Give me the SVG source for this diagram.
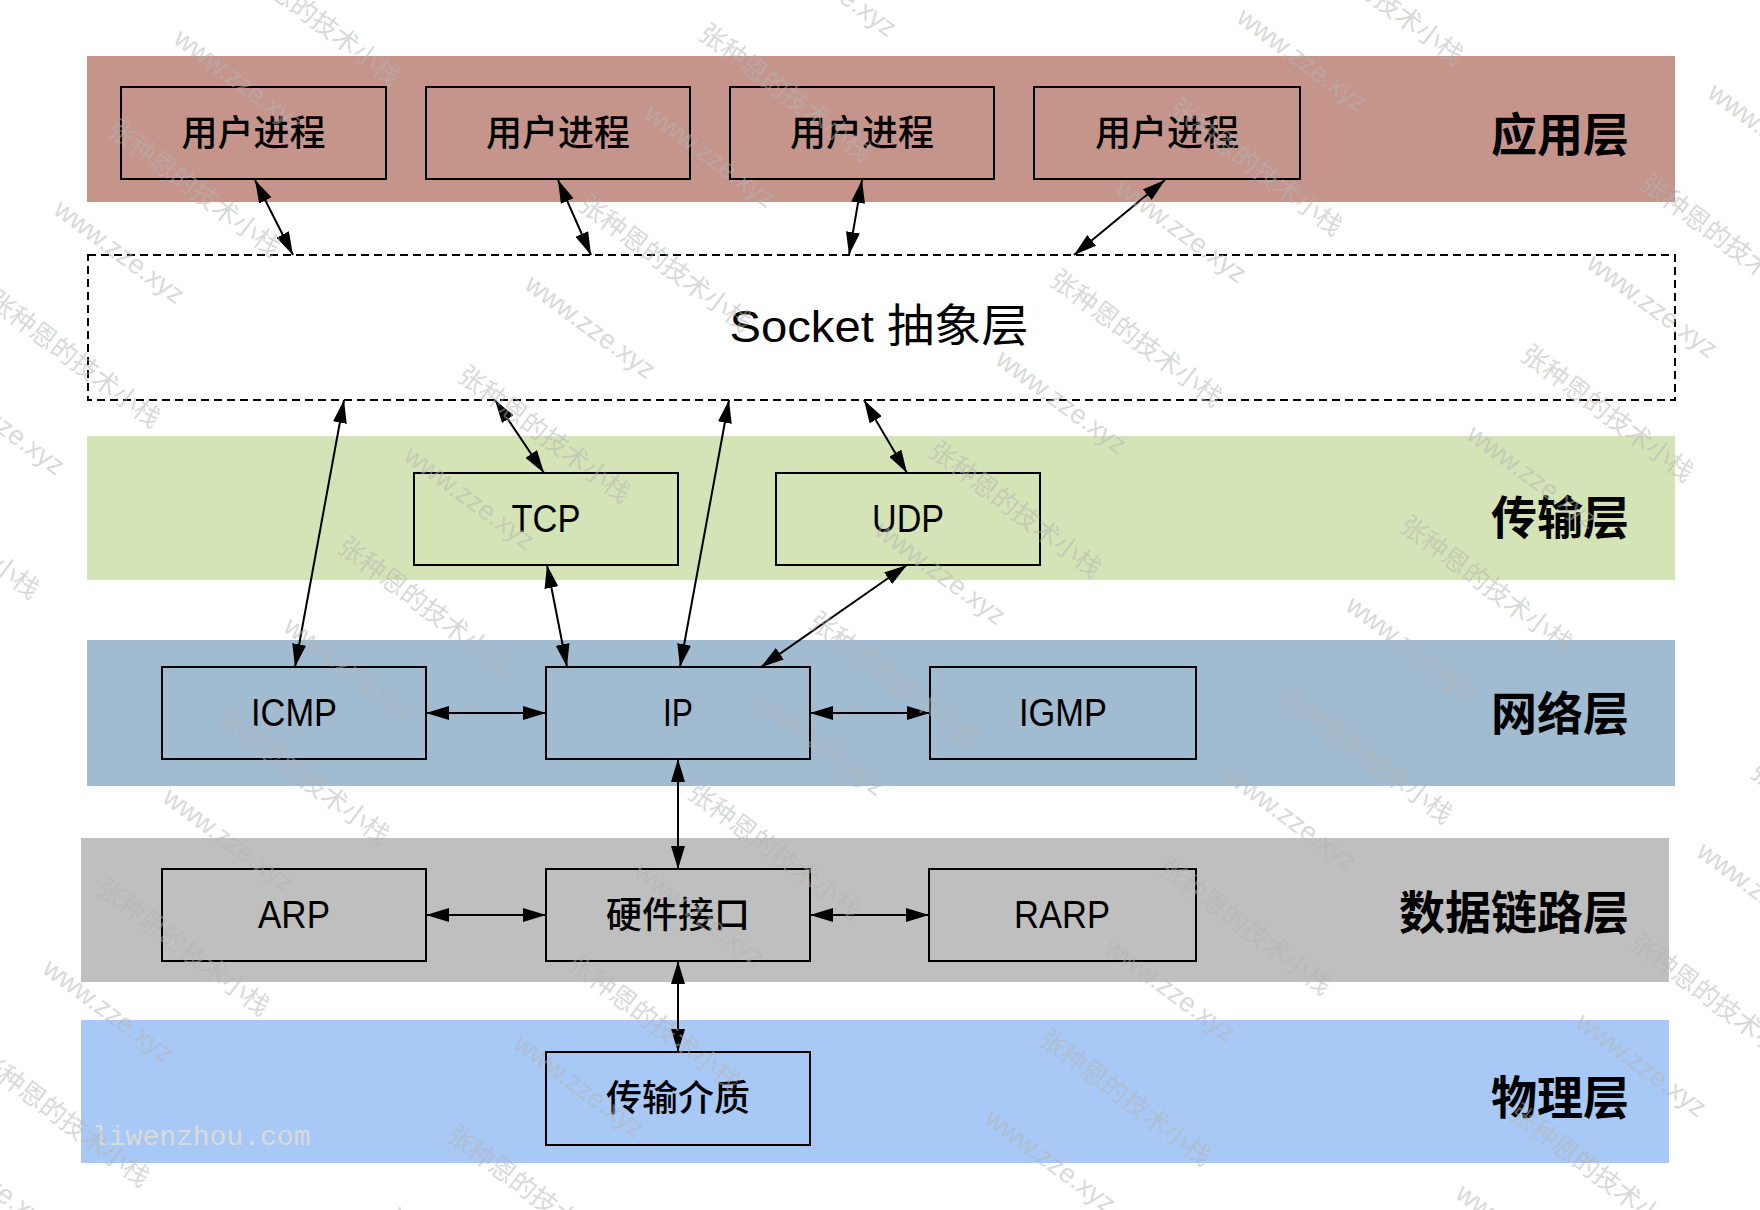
<svg xmlns="http://www.w3.org/2000/svg" xmlns:xlink="http://www.w3.org/1999/xlink" width="1760" height="1210" viewBox="0 0 1760 1210">
<style>
.box{fill:none;stroke:#000;stroke-width:2}
.lbl{font-family:"Liberation Sans","Noto Sans CJK SC",sans-serif;font-size:38px;text-anchor:middle;dominant-baseline:central;fill:#000}
.cn{font-family:"Noto Sans CJK SC",sans-serif;font-size:36px;font-weight:500}
.layer{font-family:"Noto Sans CJK SC",sans-serif;font-weight:bold;font-size:46px;text-anchor:end;dominant-baseline:central;fill:#000}
.conn line{stroke:#000;stroke-width:2;fill:none;marker-start:url(#ah);marker-end:url(#ah)}
.wmc{font-family:"Noto Sans CJK SC",sans-serif;font-size:26px;fill:#b4b4b4;fill-opacity:0.5}
.wmw{font-family:"Liberation Sans",sans-serif;font-size:27px;fill:#b4b4b4;fill-opacity:0.5}
</style>
<defs>
<marker id="ah" viewBox="0 0 23 14" markerWidth="23" markerHeight="14" refX="23" refY="7" orient="auto-start-reverse" markerUnits="userSpaceOnUse">
<path d="M0,0 L23,7 L0,14 z" fill="#000"/>
</marker>
<g id="wm">
<text class="wmc" transform="translate(-12,16) rotate(37)">张种恩的技术小栈</text>
<text class="wmw" transform="translate(-66,96) rotate(36.5)">www.zze.xyz</text>
</g>
</defs>
<rect width="1760" height="1210" fill="#fff"/>

<g id="layer-app">
<rect x="87" y="56" width="1588" height="146" fill="#C5958C"/>
<text class="layer" x="1629" y="131">应用层</text>
</g>
<g id="layer-socket">
<rect x="88" y="255" width="1587" height="145" fill="#fff" stroke="#000" stroke-width="2" stroke-dasharray="8 5"/>
<text class="lbl" x="879" y="326" style="font-size:45px" textLength="299" lengthAdjust="spacingAndGlyphs">Socket 抽象层</text>
</g>
<g id="layer-transport">
<rect x="87" y="436" width="1588" height="144" fill="#D4E4B6"/>
<text class="layer" x="1629" y="514">传输层</text>
</g>
<g id="layer-network">
<rect x="87" y="640" width="1588" height="146" fill="#A1BBD1"/>
<text class="layer" x="1629" y="710">网络层</text>
</g>
<g id="layer-datalink">
<rect x="81" y="838" width="1588" height="144" fill="#BFBFBF"/>
<text class="layer" x="1629" y="909">数据链路层</text>
</g>
<g id="layer-physical">
<rect x="81" y="1020" width="1588" height="143" fill="#A8C8F5"/>
<text class="layer" x="1629" y="1094">物理层</text>
</g>

<g id="proc1"><rect class="box" x="121" y="87" width="265" height="92"/><text class="lbl cn" x="253.5" y="130">用户进程</text></g>
<g id="proc2"><rect class="box" x="426" y="87" width="264" height="92"/><text class="lbl cn" x="558" y="130">用户进程</text></g>
<g id="proc3"><rect class="box" x="730" y="87" width="264" height="92"/><text class="lbl cn" x="862" y="130">用户进程</text></g>
<g id="proc4"><rect class="box" x="1034" y="87" width="266" height="92"/><text class="lbl cn" x="1167" y="130">用户进程</text></g>

<g id="tcp"><rect class="box" x="414" y="473" width="264" height="92"/><text class="lbl" x="546" y="519" textLength="69" lengthAdjust="spacingAndGlyphs">TCP</text></g>
<g id="udp"><rect class="box" x="776" y="473" width="264" height="92"/><text class="lbl" x="908" y="519" textLength="72" lengthAdjust="spacingAndGlyphs">UDP</text></g>

<g id="icmp"><rect class="box" x="162" y="667" width="264" height="92"/><text class="lbl" x="294" y="713" textLength="86" lengthAdjust="spacingAndGlyphs">ICMP</text></g>
<g id="ip"><rect class="box" x="546" y="667" width="264" height="92"/><text class="lbl" x="678" y="713" textLength="30" lengthAdjust="spacingAndGlyphs">IP</text></g>
<g id="igmp"><rect class="box" x="930" y="667" width="266" height="92"/><text class="lbl" x="1063" y="713" textLength="88" lengthAdjust="spacingAndGlyphs">IGMP</text></g>

<g id="arp"><rect class="box" x="162" y="869" width="264" height="92"/><text class="lbl" x="294" y="915" textLength="72" lengthAdjust="spacingAndGlyphs">ARP</text></g>
<g id="hw"><rect class="box" x="546" y="869" width="264" height="92"/><text class="lbl cn" x="678" y="912">硬件接口</text></g>
<g id="rarp"><rect class="box" x="929" y="869" width="267" height="92"/><text class="lbl" x="1062" y="915" textLength="96" lengthAdjust="spacingAndGlyphs">RARP</text></g>

<g id="medium"><rect class="box" x="546" y="1052" width="264" height="93"/><text class="lbl cn" x="678" y="1095">传输介质</text></g>

<g id="connectors" class="conn">
<line x1="255" y1="180" x2="293" y2="255"/>
<line x1="558" y1="180" x2="591" y2="255"/>
<line x1="862" y1="180" x2="849" y2="255"/>
<line x1="1165" y1="180" x2="1074" y2="255"/>
<line x1="344" y1="400" x2="295" y2="667"/>
<line x1="495" y1="400" x2="544" y2="473"/>
<line x1="729" y1="400" x2="680" y2="667"/>
<line x1="864" y1="400" x2="907" y2="473"/>
<line x1="547" y1="565" x2="567" y2="667"/>
<line x1="907" y1="565" x2="761" y2="667"/>
<line x1="426" y1="713" x2="546" y2="713"/>
<line x1="810" y1="713" x2="930" y2="713"/>
<line x1="678" y1="759" x2="678" y2="869"/>
<line x1="426" y1="915" x2="546" y2="915"/>
<line x1="810" y1="915" x2="929" y2="915"/>
<line x1="678" y1="961" x2="678" y2="1052"/>
</g>

<g id="watermark">
<text x="92" y="1145" style="font-family:'Liberation Mono',monospace;font-size:28px;fill:#dadada">liwenzhou.com</text>
<use xlink:href="#wm" x="830" y="-150"/>
<use xlink:href="#wm" x="1301" y="-75"/>
<use xlink:href="#wm" x="1772" y="0"/>
<use xlink:href="#wm" x="238" y="-54"/>
<use xlink:href="#wm" x="709" y="21"/>
<use xlink:href="#wm" x="1180" y="96"/>
<use xlink:href="#wm" x="1651" y="171"/>
<use xlink:href="#wm" x="118" y="117"/>
<use xlink:href="#wm" x="589" y="192"/>
<use xlink:href="#wm" x="1060" y="267"/>
<use xlink:href="#wm" x="1531" y="342"/>
<use xlink:href="#wm" x="-2" y="288"/>
<use xlink:href="#wm" x="468" y="363"/>
<use xlink:href="#wm" x="939" y="438"/>
<use xlink:href="#wm" x="1410" y="513"/>
<use xlink:href="#wm" x="-123" y="459"/>
<use xlink:href="#wm" x="348" y="534"/>
<use xlink:href="#wm" x="819" y="609"/>
<use xlink:href="#wm" x="1290" y="684"/>
<use xlink:href="#wm" x="1761" y="759"/>
<use xlink:href="#wm" x="227" y="705"/>
<use xlink:href="#wm" x="698" y="780"/>
<use xlink:href="#wm" x="1169" y="855"/>
<use xlink:href="#wm" x="1640" y="930"/>
<use xlink:href="#wm" x="107" y="876"/>
<use xlink:href="#wm" x="578" y="951"/>
<use xlink:href="#wm" x="1049" y="1026"/>
<use xlink:href="#wm" x="1520" y="1101"/>
<use xlink:href="#wm" x="-13" y="1047"/>
<use xlink:href="#wm" x="457" y="1122"/>
</g>
</svg>
